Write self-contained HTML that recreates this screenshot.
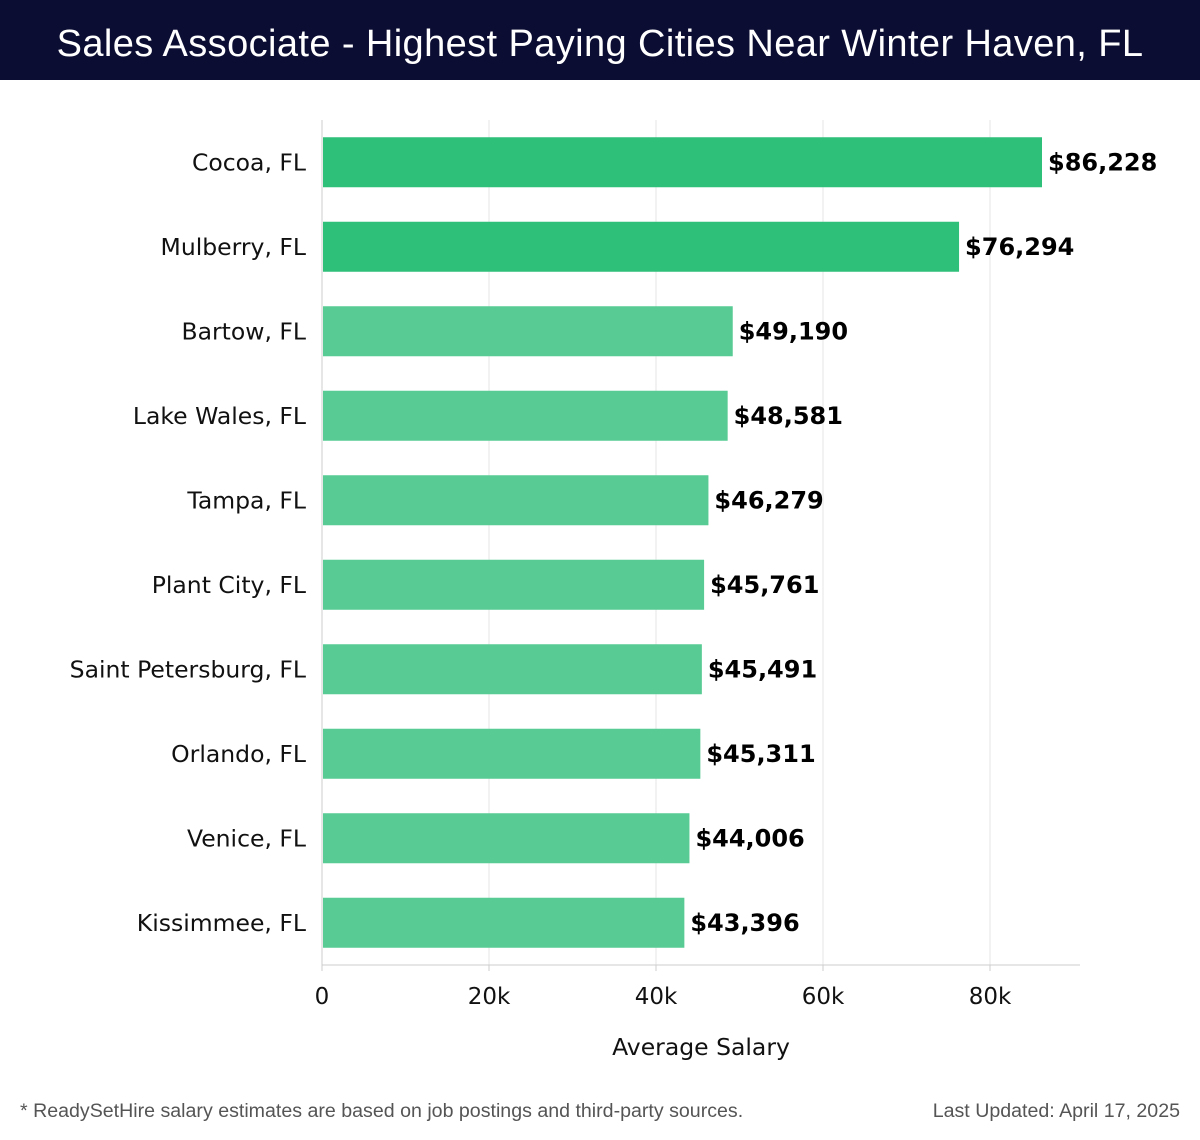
<!DOCTYPE html>
<html>
<head>
<meta charset="utf-8">
<style>
  html,body{margin:0;padding:0;background:#fff;}
  body{width:1200px;height:1140px;position:relative;overflow:hidden;font-family:"DejaVu Sans","Liberation Sans",sans-serif;}
  #title-bar{position:absolute;left:0;top:0;width:1200px;height:80px;background:#0c0d33;}
  #title-bar div{color:#fff;font-family:"Liberation Sans",sans-serif;font-size:38px;letter-spacing:0.4px;text-align:center;line-height:88px;}
  .footer{position:absolute;top:1100px;font-family:"Liberation Sans",sans-serif;font-size:19.6px;color:#555;}
</style>
</head>
<body>
<div id="title-bar"><div>Sales Associate - Highest Paying Cities Near Winter Haven, FL</div></div>
<svg id="chart" width="1200" height="1140" style="position:absolute;left:0;top:0;"></svg>
<div class="footer" style="left:20px;">* ReadySetHire salary estimates are based on job postings and third-party sources.</div>
<div class="footer" style="right:20px;">Last Updated: April 17, 2025</div>
<script>
const categories = ["Cocoa, FL","Mulberry, FL","Bartow, FL","Lake Wales, FL","Tampa, FL","Plant City, FL","Saint Petersburg, FL","Orlando, FL","Venice, FL","Kissimmee, FL"];
const salaries = [86228,76294,49190,48581,46279,45761,45491,45311,44006,43396];
const valueLabels = ["$86,228","$76,294","$49,190","$48,581","$46,279","$45,761","$45,491","$45,311","$44,006","$43,396"];
const tickValues = [0,20000,40000,60000,80000];
const tickLabels = ["0","20k","40k","60k","80k"];

const NS="http://www.w3.org/2000/svg";
const svg=document.getElementById('chart');
const x0=322, pxPerUnit=167/20000, plotRight=1080, plotTop=120, plotBottom=965;
const xScale=v=>x0+v*pxPerUnit;
const band=(plotBottom-plotTop)/categories.length;
const yCenter=i=>plotTop+band*i+band/2;
const barH=50;
function mk(tag,attrs){const e=document.createElementNS(NS,tag);for(const k in attrs)e.setAttribute(k,attrs[k]);svg.appendChild(e);return e;}

tickValues.forEach((t,i)=>{
  const x=xScale(t);
  if(t>0){const g=mk('line',{x1:x,x2:x,y1:plotTop,y2:plotBottom,stroke:'#e6e6e6','stroke-width':1});
  
  }
  const tk=mk('line',{x1:x,x2:x,y1:plotBottom,y2:plotBottom+6,stroke:'#ccc'});
  
  
  const tl=mk('text',{x:x,y:1004,'text-anchor':'middle','font-size':23,fill:'#111'});
  tl.textContent=tickLabels[i];
  
  
});
const ya=mk('line',{x1:x0,x2:x0,y1:plotTop,y2:plotBottom,stroke:'#ccc'});


const xa=mk('line',{x1:x0,x2:plotRight,y1:plotBottom,y2:plotBottom,stroke:'#ccc'});



categories.forEach((c,i)=>{
  const yc=yCenter(i);
  const r=mk('rect',{x:x0+1,y:yc-barH/2,width:xScale(salaries[i])-x0-1,height:barH,fill:i<2?'#2ebf78':'#57cb93'});
  
  
  const cl=mk('text',{x:306,y:yc+8,'text-anchor':'end','font-size':23.5,fill:'#111'});
  cl.textContent=c;
  
  
  const vl=mk('text',{x:xScale(salaries[i])+6,y:yc+8,'font-size':24,'font-weight':'bold',fill:'#000'});
  vl.textContent=valueLabels[i];
  
  
});
const at=mk('text',{x:701,y:1055,'text-anchor':'middle','font-size':23.5,fill:'#111'});
at.textContent='Average Salary';


</script>
</body>
</html>
